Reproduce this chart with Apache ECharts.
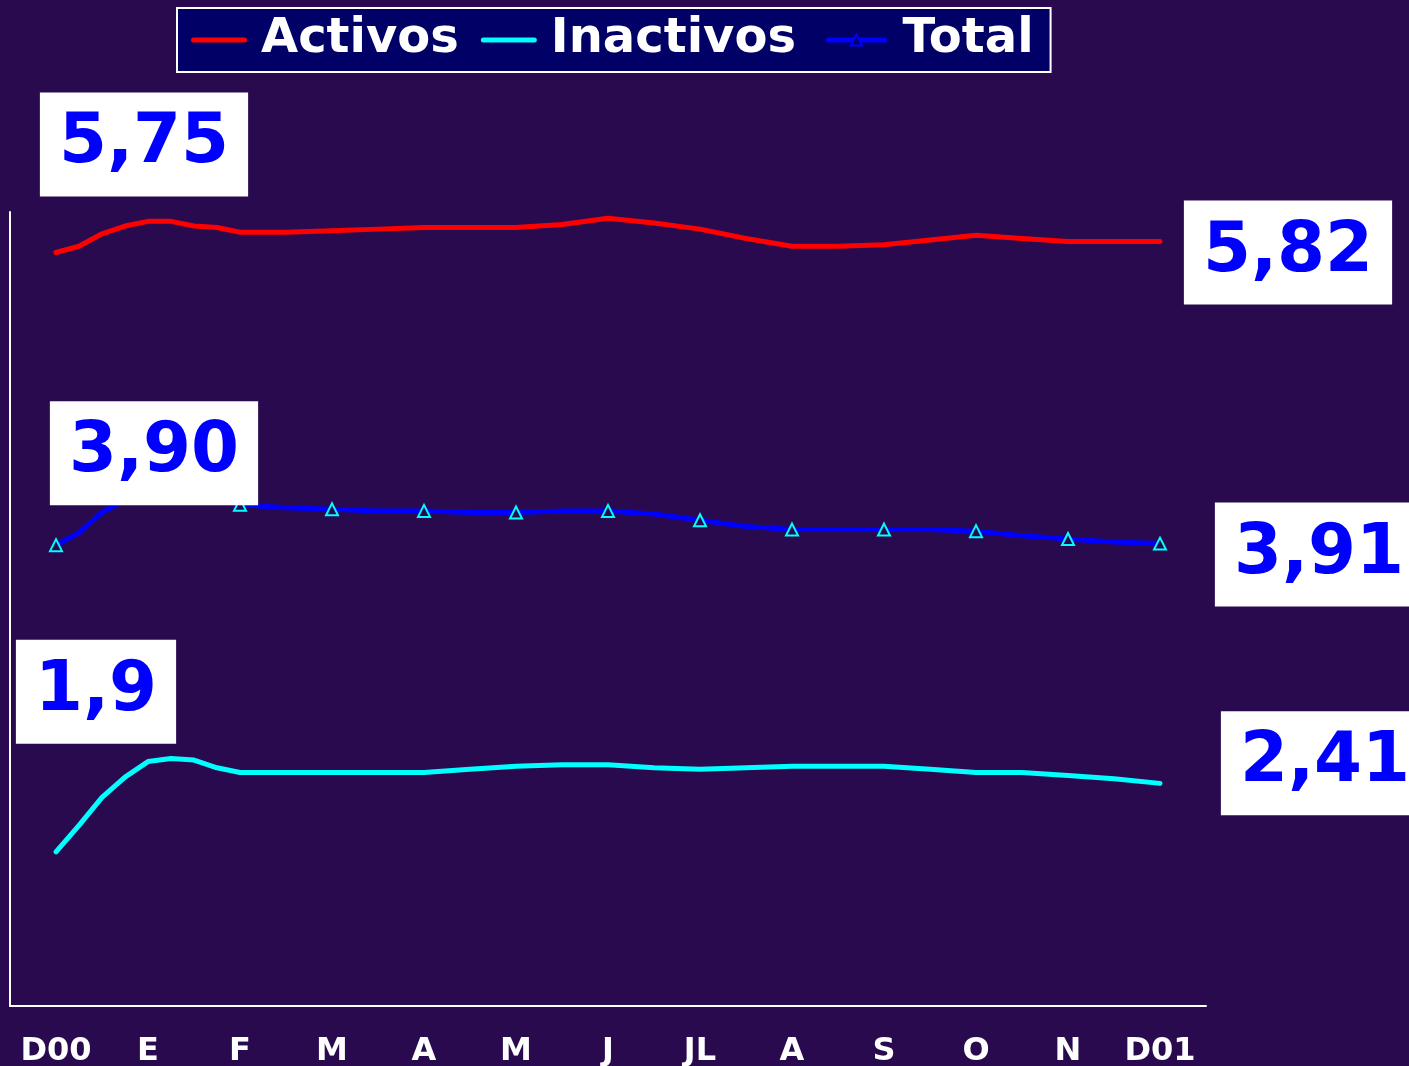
<!DOCTYPE html>
<html>
<head>
<meta charset="utf-8">
<script src="https://cdn.jsdelivr.net/npm/echarts@6/dist/echarts.min.js"></script>
<style>
  * { margin: 0; padding: 0; }
  html, body { width: 1409px; height: 1066px; overflow: hidden; background: #2a0a4f; }
  #chart { width: 1409px; height: 1066px; }
</style>
</head>
<body>
<div id="chart"></div>
<script>
// month labels on the x axis
var monthLabels = ['D00', 'E', 'F', 'M', 'A', 'M', 'J', 'JL', 'A', 'S', 'O', 'N', 'D01'];
// sample positions, in months from D00
var samplePos = [0, 0.25, 0.5, 0.75, 1, 1.25, 1.5, 1.75, 2, 2.5, 3, 3.5, 4, 4.5, 5, 5.5, 6, 6.5, 7, 7.5, 8, 8.5, 9, 9.5, 10, 10.5, 11, 11.5, 12];
var activos = [5.74, 5.78, 5.86, 5.91, 5.94, 5.94, 5.91, 5.90, 5.87, 5.87, 5.88, 5.89, 5.90, 5.90, 5.90, 5.92, 5.96, 5.93, 5.89, 5.83, 5.78, 5.78, 5.79, 5.82, 5.85, 5.83, 5.81, 5.81, 5.81];
var inactivos = [1.89, 2.06, 2.24, 2.37, 2.47, 2.49, 2.48, 2.43, 2.40, 2.40, 2.40, 2.40, 2.40, 2.42, 2.44, 2.45, 2.45, 2.43, 2.42, 2.43, 2.44, 2.44, 2.44, 2.42, 2.40, 2.40, 2.38, 2.36, 2.33];
var total = [3.86, 3.94, 4.07, 4.15, 4.18, 4.18, 4.16, 4.14, 4.12, 4.10, 4.09, 4.08, 4.08, 4.07, 4.07, 4.08, 4.08, 4.06, 4.02, 3.98, 3.96, 3.96, 3.96, 3.96, 3.95, 3.92, 3.90, 3.88, 3.87];
// boxed values at start and end of each line
var activosTags = ['5,75', '5,82'];
var inactivosTags = ['1,9', '2,41'];
var totalTags = ['3,90', '3,91'];

var bg = '#2a0a4f';
var chart = echarts.init(document.getElementById('chart'));

function pairs(vals) {
  return vals.map(function (v, i) { return [samplePos[i], v]; });
}

function tags(vals, txt, offStart, offEnd) {
  var last = vals.length - 1;
  var lbl = function (t, off) {
    return {
      show: true, position: 'inside', offset: off, formatter: t,
      fontFamily: 'DejaVu Sans', fontWeight: 'bold', fontSize: 69, lineHeight: 68,
      color: '#0000ff', backgroundColor: '#ffffff', padding: [18, 19, 18, 19]
    };
  };
  return {
    symbol: 'rect', symbolSize: 1, itemStyle: { color: 'transparent' },
    silent: true, animation: false,
    data: [
      { coord: [samplePos[0], vals[0]], label: lbl(txt[0], offStart) },
      { coord: [samplePos[last], vals[last]], label: lbl(txt[1], offEnd) }
    ]
  };
}

// flat bar used as legend key for the plain lines
var lineKey = 'path://M0,0M56,14M2.5,4.5L53.5,4.5A2.5,2.5,0,0,1,53.5,9.5L2.5,9.5A2.5,2.5,0,0,1,2.5,4.5Z';

var option = {
  backgroundColor: bg,
  animation: false,
  legend: {
    left: 177, top: 8,
    backgroundColor: '#000066', borderColor: '#ffffff', borderWidth: 2,
    padding: [4, 17, 4, 14], itemGap: 22, itemWidth: 56, itemHeight: 14,
    lineStyle: { width: 5 },
    textStyle: { color: '#ffffff', fontFamily: 'DejaVu Sans', fontWeight: 'bold', fontSize: 48, lineHeight: 56, padding: [0, 0, 0, 9] },
    data: [
      { name: 'Activos', icon: lineKey },
      { name: 'Inactivos', icon: lineKey, textStyle: { padding: [0, 8, 0, 9] } },
      { name: 'Total', itemStyle: { color: '#000066', borderColor: '#0000ff', borderWidth: 2 }, textStyle: { padding: [0, 0, 0, 13] } }
    ]
  },
  grid: { left: 10, top: 212, width: 1196, height: 794, outerBoundsMode: 'none' },
  xAxis: [
    {
      type: 'category', data: monthLabels, boundaryGap: true,
      axisLine: { lineStyle: { color: '#ffffff', width: 2 } },
      axisTick: { show: false },
      axisLabel: { color: '#ffffff', fontFamily: 'DejaVu Sans', fontWeight: 'bold', fontSize: 32, margin: 30, interval: 0 }
    },
    { type: 'value', min: -0.5, max: 12.5, show: false }
  ],
  yAxis: {
    type: 'value', min: 0.9, max: 6.0,
    axisLine: { show: true, onZero: false, lineStyle: { color: '#ffffff', width: 2 } },
    axisTick: { show: false }, axisLabel: { show: false }, splitLine: { show: false }
  },
  series: [
    {
      name: 'Activos', type: 'line', xAxisIndex: 1, data: pairs(activos),
      showSymbol: false, symbol: 'none',
      lineStyle: { color: '#ff0000', width: 5, cap: 'round' }, itemStyle: { color: '#ff0000' },
      markPoint: tags(activos, activosTags, [88, -108], [128, 11])
    },
    {
      name: 'Inactivos', type: 'line', xAxisIndex: 1, data: pairs(inactivos),
      showSymbol: false, symbol: 'none',
      lineStyle: { color: '#00ffff', width: 5, cap: 'round' }, itemStyle: { color: '#00ffff' },
      markPoint: tags(inactivos, inactivosTags, [40, -160], [165, -20])
    },
    {
      name: 'Total', type: 'line', xAxisIndex: 1,
      data: total.map(function (v, i) {
        return { value: [samplePos[i], v], symbol: Number.isInteger(samplePos[i]) ? 'triangle' : 'none' };
      }),
      symbol: 'triangle', symbolSize: 12,
      lineStyle: { color: '#0000ff', width: 5, cap: 'round' },
      itemStyle: { color: bg, borderColor: '#00ffff', borderWidth: 2 },
      markPoint: tags(total, totalTags, [98, -92], [159, 11])
    }
  ]
};
chart.setOption(option);
</script>
</body>
</html>
